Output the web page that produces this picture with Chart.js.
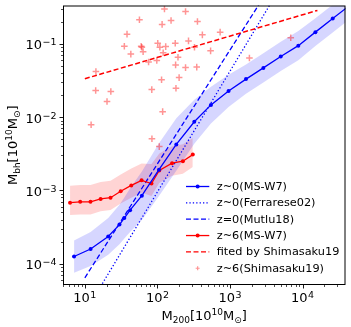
<!DOCTYPE html>
<html>
<head>
<meta charset="utf-8">
<script src="https://cdn.jsdelivr.net/npm/chart.js@4"></script>
<style>
html,body{margin:0;padding:0;background:#fff;}
#c{display:block;}
</style>
</head>
<body>
<canvas id="c" width="351" height="327"></canvas>
<script>
// z~0 (MS-W7) median + band
const msMass = [7.1, 12, 21, 30, 35, 42, 61, 105, 182, 322, 546, 955, 1660, 2880, 5000, 8730, 15000, 26000, 45000];
const msBh   = [1.25e-4, 1.58e-4, 2.35e-4, 3.41e-4, 4.19e-4, 5.37e-4, 8.46e-4, 1.92e-3, 4.24e-3, 8.65e-3, 0.0147, 0.0228, 0.0331, 0.0471, 0.0675, 0.0948, 0.145, 0.222, 0.339];
const msHi   = [2.07e-4, 2.69e-4, 4.18e-4, 6.35e-4, 7.98e-4, 1.07e-3, 1.81e-3, 4.4e-3, 9.7e-3, 0.0173, 0.0261, 0.0379, 0.0525, 0.0746, 0.107, 0.150, 0.225, 0.344, 0.52];
const msLo   = [7.5e-5, 9.3e-5, 1.32e-4, 1.83e-4, 2.2e-4, 2.69e-4, 3.95e-4, 8.4e-4, 1.85e-3, 4.34e-3, 8.2e-3, 0.01374, 0.0209, 0.0297, 0.0426, 0.0598, 0.0938, 0.143, 0.22];

// z~6 (MS-W7) median + band
const z6Mass = [6.25, 8.63, 11.96, 16.5, 22.6, 31.2, 43.6, 60.5, 82.8, 106, 159, 224, 307];
const z6Bh   = [6.8e-4, 6.97e-4, 6.97e-4, 7.64e-4, 7.94e-4, 9.73e-4, 1.17e-3, 1.37e-3, 1.24e-3, 1.87e-3, 2.35e-3, 2.5e-3, 3.08e-3];
const z6Hi   = [1.16e-3, 1.18e-3, 1.18e-3, 1.30e-3, 1.35e-3, 1.65e-3, 1.99e-3, 2.33e-3, 2.3e-3, 3.2e-3, 4.0e-3, 4.25e-3, 5.2e-3];
const z6Lo   = [4.6e-4, 4.7e-4, 4.7e-4, 5.2e-4, 5.4e-4, 6.6e-4, 7.9e-4, 9.3e-4, 8.4e-4, 1.26e-3, 1.59e-3, 1.69e-3, 2.08e-3];

// relations
const ferrMass = [10, 10000];
const ferrBh   = [2.13e-5, 1.9];
const mutluMass = [10, 10000];
const mutluBh   = [6.4e-5, 2.98];
const fitMass = [10, 16000];
const fitBh   = [0.0335, 0.287];

// Shimasaku19 quasars
const shimaMass = [125, 244, 56.5, 154, 356, 116, 38.1, 416, 731, 268, 35, 59.7, 61, 101, 108, 130, 176, 324, 540, 43,
  63.5, 120, 192, 75.5, 98, 178, 244, 348, 14.2, 14.1, 22.8, 20.2, 83.6, 114, 199, 180, 118, 12.2, 84, 106, 1850, 6870];
const shimaBh = [0.30, 0.278, 0.214, 0.209, 0.203, 0.185, 0.136, 0.133, 0.145, 0.110, 0.093, 0.093, 0.090, 0.102, 0.090, 0.092, 0.102, 0.090, 0.0805, 0.0727,
  0.0785, 0.0757, 0.0658, 0.0567, 0.0596, 0.0517, 0.0475, 0.0483, 0.042, 0.0231, 0.0224, 0.0164, 0.0238, 0.0324, 0.0347, 0.0248, 0.0119, 0.00788, 0.00506, 0.00396, 0.0642, 0.1216];

const xTickExps = [1, 2, 3, 4];
const yTickExps = [-4, -3, -2, -1];
const legendLabels = ['z~0(MS-W7)', 'z~0(Ferrarese02)', 'z=0(Mutlu18)', 'z~6(MS-W7)', 'fited by Shimasaku19', 'z~6(Shimasaku19)'];

const pts = (xs, ys) => xs.map((x, i) => ({x: x, y: ys[i]}));
const FONT = '"DejaVu Sans"';
const BLUE = '#0000ff', RED = '#ff0000';
const BLUE_BAND = 'rgba(0,0,255,0.16)', RED_BAND = 'rgba(255,0,0,0.17)';
const PLUS = 'rgba(255,0,0,0.42)';

function drawPow(ctx, exp, cx, baseline, align) {
  const s = exp < 0 ? '\u2212' + (-exp) : String(exp);
  ctx.font = '13px ' + FONT;
  const wb = ctx.measureText('10').width;
  ctx.font = '9.5px ' + FONT;
  const ws = ctx.measureText(s).width;
  const w = wb + ws + 0.5;
  const left = align === 'right' ? cx - w : cx - w / 2;
  ctx.textAlign = 'left';
  ctx.textBaseline = 'alphabetic';
  ctx.font = '13px ' + FONT;
  ctx.fillText('10', left, baseline);
  ctx.font = '9.5px ' + FONT;
  ctx.fillText(s, left + wb + 0.5, baseline - 4);
}

function drawRich(ctx, parts) {
  // centred at 0, baseline at 0
  let w = 0;
  parts.forEach(p => {
    ctx.font = (p[1] ? '9px ' : '13px ') + FONT;
    p.w = ctx.measureText(p[0]).width;
    w += p.w;
  });
  let x = -w / 2;
  ctx.textAlign = 'left';
  ctx.textBaseline = 'alphabetic';
  parts.forEach(p => {
    ctx.font = (p[1] ? '9px ' : '13px ') + FONT;
    const dy = p[1] === 'sub' ? 3 : (p[1] === 'sup' ? -5 : 0);
    ctx.fillText(p[0], x, dy);
    x += p.w;
  });
}

const decor = {
  id: 'decor',
  afterDatasetsDraw(chart) {
    const {ctx, chartArea: a, scales} = chart;
    const xs = scales.x, ys = scales.y;
    ctx.save();
    ctx.strokeStyle = '#000';
    ctx.fillStyle = '#000';
    // frame
    ctx.lineWidth = 1;
    ctx.strokeRect(a.left + 0.5, a.top + 0.5, a.right - a.left - 1, a.bottom - a.top - 1);
    // ticks
    const inX = v => v >= xs.min && v <= xs.max;
    const inY = v => v >= ys.min && v <= ys.max;
    for (let e = -6; e <= 5; e++) {
      for (let k = 1; k <= 9; k++) {
        const v = k * Math.pow(10, e);
        const len = k === 1 ? 3.5 : 2;
        ctx.lineWidth = k === 1 ? 0.9 : 0.7;
        if (inX(v)) {
          const px = Math.round(xs.getPixelForValue(v)) + 0.5;
          ctx.beginPath(); ctx.moveTo(px, a.bottom); ctx.lineTo(px, a.bottom + len); ctx.stroke();
        }
        if (inY(v)) {
          const py = Math.round(ys.getPixelForValue(v)) + 0.5;
          ctx.beginPath(); ctx.moveTo(a.left, py); ctx.lineTo(a.left - len, py); ctx.stroke();
        }
      }
    }
    // tick labels
    xTickExps.forEach(e => drawPow(ctx, e, xs.getPixelForValue(Math.pow(10, e)), a.bottom + 17, 'center'));
    yTickExps.forEach(e => drawPow(ctx, e, a.left - 6.5, ys.getPixelForValue(Math.pow(10, e)) + 5.5, 'right'));
    // axis titles
    ctx.save();
    ctx.translate((a.left + a.right) / 2, 320);
    drawRich(ctx, [['M'], ['200', 'sub'], ['[10'], ['10', 'sup'], ['M'], ['\u2299', 'sub'], [']']]);
    ctx.restore();
    ctx.save();
    ctx.translate(17, (a.top + a.bottom) / 2);
    ctx.rotate(-Math.PI / 2);
    drawRich(ctx, [['M'], ['bh', 'sub'], ['[10'], ['10', 'sup'], ['M'], ['\u2299', 'sub'], [']']]);
    ctx.restore();
    ctx.restore();
  },
  afterDraw(chart) {
    const ctx = chart.ctx;
    ctx.save();
    const x0 = 186, x1 = 209.3, tx = 216.7;
    const styles = [
      {c: BLUE, dash: [], mk: true},
      {c: BLUE, dash: [1.3, 2.1], mk: false},
      {c: BLUE, dash: [5, 2.5], mk: false},
      {c: RED, dash: [], mk: true},
      {c: RED, dash: [5, 2.5], mk: false},
      {plus: true}
    ];
    legendLabels.forEach((lab, i) => {
      const y = 186.5 + i * 16.35;
      const st = styles[i];
      if (st.plus) {
        ctx.strokeStyle = PLUS;
        ctx.lineWidth = 1.2;
        const cx = (x0 + x1) / 2;
        ctx.beginPath();
        ctx.moveTo(cx - 2, y); ctx.lineTo(cx + 2, y);
        ctx.moveTo(cx, y - 2); ctx.lineTo(cx, y + 2);
        ctx.stroke();
      } else {
        ctx.strokeStyle = st.c;
        ctx.lineWidth = 1.3;
        ctx.setLineDash(st.dash);
        ctx.beginPath(); ctx.moveTo(x0, y); ctx.lineTo(x1, y); ctx.stroke();
        ctx.setLineDash([]);
        if (st.mk) {
          ctx.fillStyle = st.c;
          ctx.beginPath(); ctx.arc((x0 + x1) / 2, y, 2, 0, Math.PI * 2); ctx.fill();
        }
      }
      ctx.fillStyle = '#000';
      ctx.font = '11.3px ' + FONT;
      ctx.textAlign = 'left';
      ctx.textBaseline = 'middle';
      ctx.fillText(lab, tx, y + 0.5);
    });
    ctx.restore();
  }
};

const noPt = {pointRadius: 0, pointHoverRadius: 0};

new Chart(document.getElementById('c'), {
  type: 'line',
  data: {
    datasets: [
      // 0,1: blue band
      Object.assign({data: pts(msMass, msLo), borderWidth: 0, fill: false, order: 20}, noPt),
      Object.assign({data: pts(msMass, msHi), borderWidth: 0, backgroundColor: BLUE_BAND, fill: '-1', order: 20}, noPt),
      // 2,3: red band
      Object.assign({data: pts(z6Mass, z6Lo), borderWidth: 0, fill: false, order: 21}, noPt),
      Object.assign({data: pts(z6Mass, z6Hi), borderWidth: 0, backgroundColor: RED_BAND, fill: '-1', order: 21}, noPt),
      // scatter
      {data: pts(shimaMass, shimaBh), showLine: false, pointStyle: 'cross', pointRadius: 3.3, pointBorderWidth: 1.5,
        pointBorderColor: PLUS, pointBackgroundColor: PLUS, order: 15},
      // relations
      Object.assign({data: pts(ferrMass, ferrBh), borderColor: BLUE, borderWidth: 1.3, borderDash: [1.3, 2.1], fill: false, order: 6}, noPt),
      Object.assign({data: pts(mutluMass, mutluBh), borderColor: BLUE, borderWidth: 1.3, borderDash: [5, 2.5], fill: false, order: 5}, noPt),
      Object.assign({data: pts(fitMass, fitBh), borderColor: RED, borderWidth: 1.5, borderDash: [5, 2.5], fill: false, order: 4}, noPt),
      // medians
      {data: pts(z6Mass, z6Bh), borderColor: RED, borderWidth: 1.3, pointRadius: 2, pointBorderWidth: 0,
        pointBackgroundColor: RED, fill: false, order: 3},
      {data: pts(msMass, msBh), borderColor: BLUE, borderWidth: 1.3, pointRadius: 2, pointBorderWidth: 0,
        pointBackgroundColor: BLUE, fill: false, order: 2}
    ]
  },
  options: {
    responsive: false,
    animation: false,
    devicePixelRatio: 1,
    clip: 0,
    datasets: {line: {clip: 0, tension: 0}},
    layout: {padding: {left: 63, top: 1, right: 2, bottom: 42}},
    plugins: {legend: {display: false}, tooltip: {enabled: false}},
    events: [],
    scales: {
      x: {type: 'logarithmic', display: false, min: 5, max: 39000, bounds: 'data'},
      y: {type: 'logarithmic', display: false, min: 5.1e-5, max: 0.335, bounds: 'data'}
    }
  },
  plugins: [decor]
});
</script>
</body>
</html>
